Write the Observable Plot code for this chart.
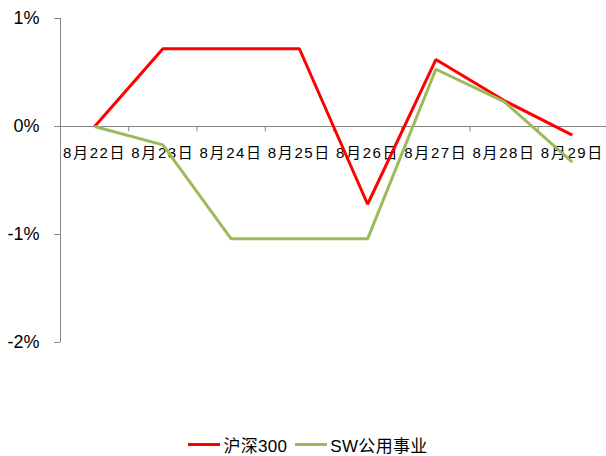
<!DOCTYPE html>
<html>
<head>
<meta charset="utf-8">
<script src="https://cdn.jsdelivr.net/npm/d3@7"></script>
<script src="https://cdn.jsdelivr.net/npm/@observablehq/plot@0.6"></script>
<style>
  body { margin: 0; background: #fff; }
  #chart { width: 606px; }
  #chart svg g[aria-label="text"] text { letter-spacing: 1.6px; }
  .legend { display: flex; justify-content: center; align-items: center; gap: 6px; margin-top: 12px;
    font-family: "Liberation Sans", "Noto Sans CJK SC", sans-serif; font-size: 17px; color: #000; margin-left: 12px; letter-spacing: 0.3px; }
  .legend span.sw { display: inline-block; width: 32px; height: 3px; margin-right: 3px; }
  .legend .item { display: flex; align-items: center; margin-right: 2px; }
</style>
</head>
<body>
<div id="chart"></div>
<script>
const categories = ["8月22日", "8月23日", "8月24日", "8月25日", "8月26日", "8月27日", "8月28日", "8月29日"];
const seriesNames = ["沪深300", "SW公用事业"];
const hs300 = [0, 0.72, 0.72, 0.72, -0.72, 0.62, 0.24, -0.08];
const swUtil = [0, -0.17, -1.04, -1.04, -1.04, 0.53, 0.23, -0.33];
const colors = ["#FF0000", "#9BBB59"];
const yTicks = [1, 0, -1, -2];

const data = [];
categories.forEach((c, i) => {
  data.push({ i, cat: c, series: seriesNames[0], value: hs300[i] });
  data.push({ i, cat: c, series: seriesNames[1], value: swUtil[i] });
});
const boundaries = d3.range(0, categories.length).map(k => k + 0.5);

const fontFam = '"Liberation Sans", "Noto Sans CJK SC", sans-serif';

const plot = Plot.plot({
  width: 606,
  height: 420,
  marginTop: 18,
  marginBottom: 78,
  marginLeft: 60,
  marginRight: 0,
  style: { fontFamily: fontFam, background: "#fff", overflow: "visible" },
  x: { type: "linear", domain: [-0.5, categories.length - 0.5], axis: null },
  y: { domain: [-2, 1], axis: null },
  color: { domain: seriesNames, range: colors },
  marks: [
    Plot.axisY({ ticks: yTicks, tickFormat: d => d + "%", tickSize: 6, tickPadding: 15, stroke: "#868686", fill: "#000", fontSize: 18, anchor: "left", label: null }),
    Plot.ruleX([-0.5], { y1: -2, y2: 1, stroke: "#868686", strokeWidth: 1 }),
    Plot.ruleY([0], { x1: -0.5, x2: categories.length - 0.5, stroke: "#868686", strokeWidth: 1 }),
    Plot.ruleX(boundaries, { y1: 0, y2: -0.05, stroke: "#868686", strokeWidth: 1 }),
    Plot.text(categories, { x: (d, i) => i, y: () => 0, text: d => d, dy: 27, fontSize: 15, fill: "#000" }),
    Plot.line(data, { x: "i", y: "value", z: "series", stroke: "series", strokeWidth: 3, strokeLinejoin: "miter", strokeLinecap: "butt" })
  ]
});
document.getElementById("chart").appendChild(plot);

const legend = document.createElement("div");
legend.className = "legend";
seriesNames.forEach((n, k) => {
  const it = document.createElement("div");
  it.className = "item";
  const sw = document.createElement("span");
  sw.className = "sw";
  sw.style.background = colors[k];
  it.appendChild(sw);
  const t = document.createElement("span");
  t.textContent = n;
  it.appendChild(t);
  legend.appendChild(it);
});
document.getElementById("chart").appendChild(legend);
</script>
</body>
</html>
